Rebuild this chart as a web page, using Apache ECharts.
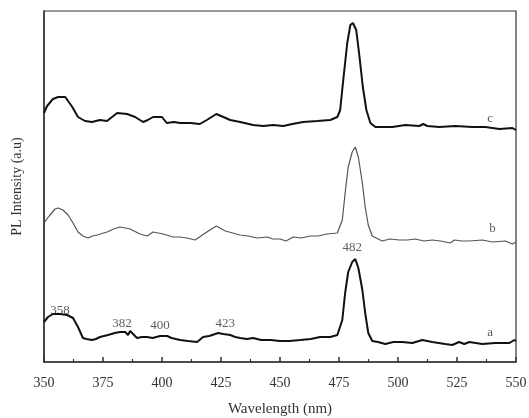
<!DOCTYPE html>
<html>
<head>
<meta charset="utf-8">
<title>PL spectra</title>
<script src="https://cdn.jsdelivr.net/npm/echarts@6/dist/echarts.min.js"></script>
<style>
  html, body { margin: 0; padding: 0; background: #fff; }
  #chart { width: 529px; height: 418px; }
</style>
</head>
<body>
<div id="chart"></div>
<script>
// wavelength (nm) and intensity (a.u.)
const curveA = [
  [350, 40], [351.7, 45], [353.8, 48], [356.8, 48], [359.8, 47], [362.3, 44],
  [364.4, 35], [366.5, 24], [368, 23], [370.3, 22], [372, 23], [373.7, 25], [377.1, 27],
  [380, 29], [382.2, 30], [384.4, 30], [385.6, 27], [386.5, 31], [389.4, 24], [391.5, 25],
  [393.7, 25], [396, 24], [399.2, 26], [402.2, 26], [404, 24], [407.7, 22], [411, 21],
  [414.9, 20], [417.4, 25], [420, 26], [423.8, 29], [426, 28], [428.9, 27], [431, 25],
  [433.1, 24], [436, 23], [438.6, 24], [442, 22], [446, 22], [450, 21], [454, 21],
  [458.6, 22], [463, 23], [467, 25], [471.3, 25], [474.3, 27], [476.4, 42], [477.6, 69],
  [478.9, 90], [480.6, 100], [481.9, 103], [483.2, 94], [484.9, 72], [486.1, 49],
  [487.4, 29], [489.1, 21], [491.5, 20], [494.6, 18], [498, 20], [501.8, 20], [506.1, 19],
  [510.3, 22], [514.5, 20], [520, 18], [523, 17], [525.9, 20], [528.1, 18], [530.2, 20],
  [535.7, 18], [541.2, 19], [547.2, 19], [549.3, 22], [550, 21]
];

const curveB = [
  [350, 139], [352.5, 147], [354.7, 153], [356, 154], [358, 152], [360.2, 147],
  [362.3, 139], [364.4, 130], [366.5, 126], [368.7, 124], [370.5, 126], [372.5, 127],
  [376.7, 130], [379.5, 133], [382.2, 135], [384.5, 134], [386.5, 133], [390.7, 128],
  [393.7, 126], [396.2, 130], [398.4, 129], [400.5, 128], [404.7, 125], [407.5, 125],
  [410.6, 124], [414, 122], [416.5, 126], [419, 130], [423, 136], [426.8, 131],
  [430, 129], [433, 127], [436.5, 126], [440.3, 124], [444.6, 125], [447, 123],
  [450, 123], [452.5, 121], [455.6, 125], [459, 124], [462.8, 126], [466, 126],
  [470, 128], [474.3, 129], [476.4, 142], [477.6, 169], [478.9, 195], [480.6, 210],
  [481.9, 215], [483.2, 205], [484.9, 179], [486.1, 155], [487.4, 137], [489.1, 126],
  [493.3, 121], [496.5, 123], [500.6, 122], [504, 122], [507.3, 123], [511, 121],
  [514.5, 122], [518, 121], [522.2, 119], [523.9, 122], [527, 121], [530.2, 121],
  [535.7, 122], [540, 120], [545.5, 121], [548.5, 118], [550, 120]
];

const curveC = [
  [350, 249], [351.3, 256], [353.8, 263], [356, 265], [359, 265], [362, 255],
  [364.4, 245], [367.4, 241], [370.3, 240], [373.7, 242], [376.7, 241], [381, 249],
  [385.2, 248], [388.6, 245], [392, 240], [394, 242], [396.2, 245], [400, 245],
  [402, 239], [405, 240], [407.7, 239], [412, 239], [416, 238], [419, 242], [423, 248],
  [426, 245], [428.9, 242], [433.1, 240], [438.6, 237], [442.9, 236], [447.1, 237],
  [451.4, 236], [455.2, 238], [459.8, 240], [465.8, 241], [471.3, 242], [474.3, 245],
  [475.5, 252], [476.8, 282], [478.5, 319], [479.8, 337], [480.9, 339], [482.3, 332],
  [483.7, 305], [485.1, 275], [486.6, 252], [488.3, 239], [490.4, 235], [494, 235],
  [497.6, 235], [503.1, 237], [509, 236], [510.7, 238], [512.4, 236], [517.5, 235],
  [524.3, 236], [531.5, 235], [537, 235], [543, 233], [548.5, 234], [550, 232]
];

// peak annotations and curve names: [wavelength, intensity, text]
const peakLabels = [
  [356.8, 51, '358'], [383, 38, '382'], [399.2, 36, '400'],
  [426.8, 38, '423'], [480.6, 114, '482']
];
const curveNames = [
  [539, 29, 'a'], [540, 133, 'b'], [539, 243, 'c']
];

const chart = echarts.init(document.getElementById('chart'));
const textFont = 'Liberation Serif';

function lineSeries(data, color, width) {
  return {
    type: 'line',
    data: data,
    symbol: 'none',
    smooth: false,
    lineStyle: { color: color, width: width },
    silent: true
  };
}

function textSeries(items, size) {
  return {
    type: 'scatter',
    symbolSize: 0,
    silent: true,
    data: items.map(d => ({ value: [d[0], d[1]], name: d[2] })),
    label: {
      show: true,
      position: 'inside',
      formatter: p => p.name,
      fontFamily: textFont,
      fontSize: size,
      color: '#333'
    }
  };
}

chart.setOption({
  animation: false,
  grid: {
    left: 44, right: 13, top: 11, bottom: 56,
    outerBoundsMode: 'none',
    show: true, borderColor: '#333', borderWidth: 1.2
  },
  xAxis: {
    type: 'value',
    min: 350, max: 550, interval: 25,
    name: 'Wavelength (nm)',
    nameLocation: 'middle',
    nameGap: 40,
    nameTextStyle: { fontFamily: textFont, fontSize: 15, color: '#333' },
    axisLine: { lineStyle: { color: '#333', width: 1.5 } },
    axisTick: { inside: true, length: 5, lineStyle: { color: '#333', width: 1.5 } },
    minorTick: { show: true, splitNumber: 2, length: 3, lineStyle: { color: '#333', width: 1.2 } },
    axisLabel: { margin: 14, fontFamily: textFont, fontSize: 14, color: '#333' },
    splitLine: { show: false }
  },
  yAxis: {
    type: 'value',
    min: 0, max: 351,
    name: 'PL Intensity (a.u)',
    nameLocation: 'middle',
    nameGap: 20,
    nameTextStyle: { fontFamily: textFont, fontSize: 14, color: '#333' },
    axisLine: { show: true, lineStyle: { color: '#333', width: 1.5 } },
    axisTick: { show: false },
    axisLabel: { show: false },
    splitLine: { show: false }
  },
  series: [
    lineSeries(curveA, '#111', 2),
    lineSeries(curveB, '#555', 1.2),
    lineSeries(curveC, '#111', 2),
    textSeries(peakLabels, 13),
    textSeries(curveNames, 13)
  ]
});
</script>
</body>
</html>
